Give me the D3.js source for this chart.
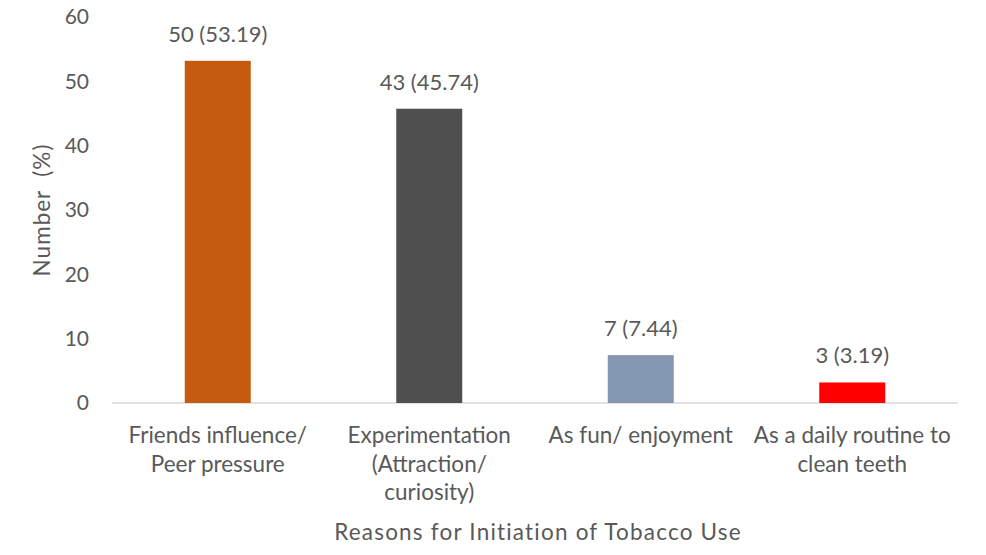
<!DOCTYPE html>
<html><head><meta charset="utf-8">
<script src="https://cdn.jsdelivr.net/npm/d3@7"></script>
<style>body{margin:0;background:#fff}svg{display:block}text{font-family:Lato,"Open Sans",sans-serif;fill:#595959}</style>
</head><body>
<script>
const categories = [["Friends influence/","Peer pressure"],["Experimentation","(Attraction/","curiosity)"],["As fun/ enjoyment"],["As a daily routine to","clean teeth"]];
const counts = [50, 43, 7, 3];
const percents = [53.19, 45.74, 7.44, 3.19];
const colors = ["#C55A11", "#4F4F4F", "#8497B0", "#FF0000"];
const yTicks = [0, 10, 20, 30, 40, 50, 60];

const W = 986, H = 555;
const svg = d3.select("body").append("svg").attr("width", W).attr("height", H);
const x = d3.scaleBand().domain(d3.range(categories.length)).range([112, 958]).paddingInner(0.688).paddingOuter(0.344);
const y = d3.scaleLinear().domain([0, 60]).range([403, 17]);

// baseline
svg.append("line").attr("x1", 112).attr("x2", 958).attr("y1", y(0)).attr("y2", y(0)).attr("stroke", "#d9d9d9").attr("stroke-width", 1.5);

// y axis
const yAxis = svg.append("g").attr("transform", "translate(97,0)").call(d3.axisLeft(y).tickValues(yTicks).tickSize(0).tickPadding(8));
yAxis.select(".domain").remove();
yAxis.selectAll("text").style("font-size", "21px").style("fill", "#595959").style("font-family", "Lato, sans-serif");

// bars
svg.selectAll("rect.bar").data(percents).join("rect").attr("class", "bar")
  .attr("x", (d, i) => x(i)).attr("width", x.bandwidth())
  .attr("y", d => y(d)).attr("height", d => y(0) - y(d))
  .attr("fill", (d, i) => colors[i]);

// data labels
svg.selectAll("text.lab").data(percents).join("text").attr("class", "lab")
  .attr("x", (d, i) => x(i) + x.bandwidth() / 2).attr("y", d => y(d) - 19)
  .attr("text-anchor", "middle").style("font-size", "22px")
  .text((d, i) => `${counts[i]} (${d.toFixed(2)})`);

// category labels
categories.forEach((lines, i) => {
  const t = svg.append("text").attr("text-anchor", "middle").style("font-size", "22.5px");
  lines.forEach((l, j) => {
    t.append("tspan").attr("x", x(i) + x.bandwidth() / 2).attr("y", 443 + j * 28.5).text(l);
  });
});

// axis titles
svg.append("text").attr("x", 538).attr("y", 540).attr("text-anchor", "middle").style("font-size", "22.5px").style("letter-spacing", "1.2px").text("Reasons for Initiation of Tobacco Use");
svg.append("text").attr("transform", "translate(50,210) rotate(-90)").attr("text-anchor", "middle").style("font-size", "22.5px").style("white-space", "pre").style("letter-spacing", "1px").text("Number  (%)");
</script>
</body></html>
